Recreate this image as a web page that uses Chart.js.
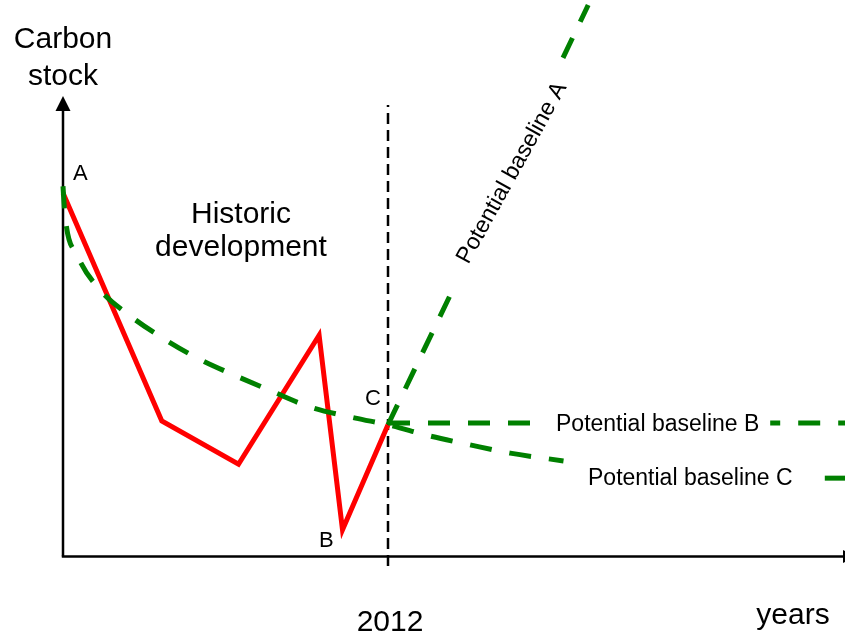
<!DOCTYPE html>
<html><head><meta charset="utf-8">
<script src="https://cdn.jsdelivr.net/npm/chart.js@4/dist/chart.umd.min.js"></script>
<style>html,body{margin:0;padding:0;background:#fff}#wrap{width:845px;height:637px;position:relative}</style>
</head><body><div id="wrap"><canvas id="c"></canvas></div>
<script>
// ---- data (years on x, carbon stock on y, arbitrary units) ----
const historicYears = [1987, 1994.6, 2000.5, 2006.7, 2008.5, 2012];
const historicStock = [65.3, 24.3, 16.5, 39.7, 4.7, 23.6];

const baselineCYears = [1987, 1987.15, 1988.1, 1989.8, 1992.1, 1994.8, 1997.5, 2000.3, 2003.2, 2006.0, 2009.5, 2012, 2015.2, 2018.3, 2021.4, 2025.5];
const baselineCStock = [66.5, 61.3, 54.1, 48.0, 43.3, 39.0, 35.4, 32.4, 29.5, 26.8, 24.8, 23.6, 21.6, 20.0, 18.5, 17.1];
const baselineCTailYears = [2045.6, 2047.3];
const baselineCTailStock = [14.0, 14.0];

const baselineBYears = [2012, 2024.1, 2041.4, 2047.3];
const baselineBStock = [23.9, 23.9, 23.9, 23.9];

const baselineAYears = [2012, 2014.46, 2017.15, 2021, 2025.46, 2027.4];
const baselineAStock = [23.6, 35.6, 48.7, null, 89.6, 99.1];

const markerYear = 2012;
const markerRange = [-1.8, 81.1];

const yAxisTitle = ['Carbon', 'stock'];
const xAxisTitle = 'years';
const xTickLabel = '2012';
const historicLabel = ['Historic', 'development'];
const pointLabels = ['A', 'B', 'C'];
const seriesLabels = ['Potential baseline A', 'Potential baseline B', 'Potential baseline C'];

const pts = (xs, ys) => xs.map((x, i) => ({x, y: ys[i]}));

const GREEN = '#008000';
const FONT = '"Liberation Sans", Arial, sans-serif';

const axesPlugin = {
  id: 'axesArrows',
  beforeDatasetsDraw(chart) {
    const {ctx, chartArea: a} = chart;
    ctx.save();
    ctx.strokeStyle = '#000'; ctx.fillStyle = '#000'; ctx.lineWidth = 2.5;
    const yb = a.bottom + 0.5;
    // y axis
    ctx.beginPath(); ctx.moveTo(a.left, yb); ctx.lineTo(a.left, 108); ctx.stroke();
    ctx.beginPath(); ctx.moveTo(a.left, 96); ctx.lineTo(a.left - 7.5, 111); ctx.lineTo(a.left + 7.5, 111); ctx.closePath(); ctx.fill();
    // x axis
    ctx.beginPath(); ctx.moveTo(a.left - 1.2, yb); ctx.lineTo(a.right + 2, yb); ctx.stroke();
    ctx.beginPath(); ctx.moveTo(a.right, yb - 6.5); ctx.lineTo(a.right + 14, yb); ctx.lineTo(a.right, yb + 6.5); ctx.closePath(); ctx.fill();
    ctx.restore();
  },
  afterDatasetsDraw(chart) {
    const {ctx, chartArea: a, scales: {x, y}} = chart;
    ctx.save();
    ctx.fillStyle = '#000';
    ctx.textBaseline = 'alphabetic';
    ctx.font = '30px ' + FONT;
    ctx.textAlign = 'center';
    ctx.fillText(yAxisTitle[0], a.left, 48);
    ctx.fillText(yAxisTitle[1], a.left, 85);
    ctx.fillText(historicLabel[0], 241, 223);
    ctx.fillText(historicLabel[1], 241, 256);
    ctx.fillText(xTickLabel, x.getPixelForValue(markerYear) + 2, 631);
    ctx.fillText(xAxisTitle, 793, 624);
    ctx.font = '22px ' + FONT;
    ctx.textAlign = 'left';
    ctx.fillText(pointLabels[0], 73, 180);
    ctx.fillText(pointLabels[1], 319, 547);
    ctx.fillText(pointLabels[2], 365, 405);
    ctx.font = '23px ' + FONT;
    ctx.fillText(seriesLabels[1], 556, 431);
    ctx.fillText(seriesLabels[2], 588, 485);
    ctx.translate(512, 173);
    ctx.rotate(-61 * Math.PI / 180);
    ctx.textAlign = 'center';
    ctx.textBaseline = 'middle';
    ctx.fillText(seriesLabels[0], 0, 0);
    ctx.restore();
  }
};

const greenDash = {borderColor: GREEN, borderWidth: 5, borderDash: [22, 18], pointRadius: 0, fill: false};

new Chart(document.getElementById('c'), {
  type: 'line',
  data: {
    datasets: [
      Object.assign({label: 'C', data: pts(baselineCYears, baselineCStock), cubicInterpolationMode: 'monotone'}, greenDash),
      Object.assign({label: 'C tail', data: pts(baselineCTailYears, baselineCTailStock)}, greenDash),
      Object.assign({label: 'B', data: pts(baselineBYears, baselineBStock).slice(0, 2)}, greenDash),
      Object.assign({label: 'B right', data: pts(baselineBYears, baselineBStock).slice(2), borderDashOffset: 12}, greenDash),
      Object.assign({label: 'A', data: pts(baselineAYears, baselineAStock), spanGaps: false}, greenDash),
      {label: 'Historic', data: pts(historicYears, historicStock), borderColor: '#ff0000', borderWidth: 5, pointRadius: 0, tension: 0},
      {label: '2012', data: pts([markerYear, markerYear], markerRange), borderColor: '#000', borderWidth: 2.5, borderDash: [11, 6], pointRadius: 0}
    ]
  },
  options: {
    responsive: true, maintainAspectRatio: false, animation: false,
    layout: {padding: {left: 63, right: 2, top: 0, bottom: 81}},
    datasets: {line: {clip: false}},
    plugins: {legend: {display: false}, tooltip: {enabled: false}, title: {display: false}},
    scales: {
      x: {type: 'linear', min: 1987, max: 2047, display: false},
      y: {type: 'linear', min: 0, max: 100, display: false}
    },
    events: []
  },
  plugins: [axesPlugin]
});
</script></body></html>
